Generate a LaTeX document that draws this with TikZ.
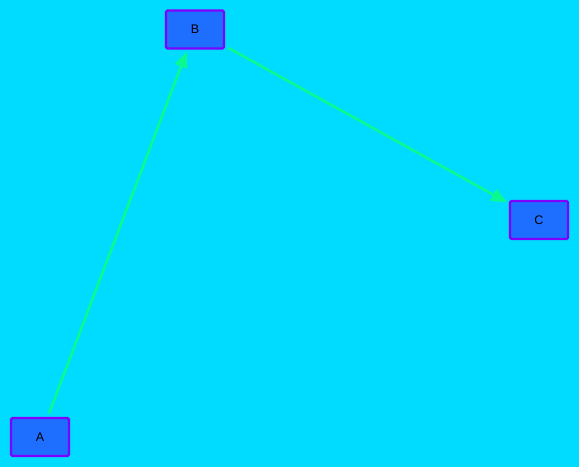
\documentclass[tikz,border=0pt]{standalone}
\usepackage{fontspec}
\setmainfont{Liberation Sans}
\usetikzlibrary{arrows.meta}
\definecolor{bgcyan}{RGB}{0,220,255}
\definecolor{boxblue}{RGB}{30,110,255}
\definecolor{boxedge}{RGB}{128,0,255}
\definecolor{linkgreen}{RGB}{10,250,145}
\tikzset{
  box/.style={draw=boxedge,fill=boxblue,line width=2.2pt,rounded corners=1.5pt,minimum width=58pt,minimum height=38pt,inner sep=0pt,font=\fontsize{12.5}{14}\selectfont},
  link/.style={draw=linkgreen,line width=2.6pt,-{Triangle[length=16pt,width=13pt]},shorten >=2pt,shorten <=4pt}
}
\begin{document}
\begin{tikzpicture}[x=1pt,y=-1pt]
\fill[bgcyan](0,0)rectangle(579,467);\useasboundingbox(0,0)rectangle(579,467);
\node[box](a)at(40,437){A};\node[box](b)at(195,29.5){B};\node[box](c)at(539,220){C};
\draw[link](a)--(b);\draw[link](b)--(c);
\end{tikzpicture}
\end{document}
